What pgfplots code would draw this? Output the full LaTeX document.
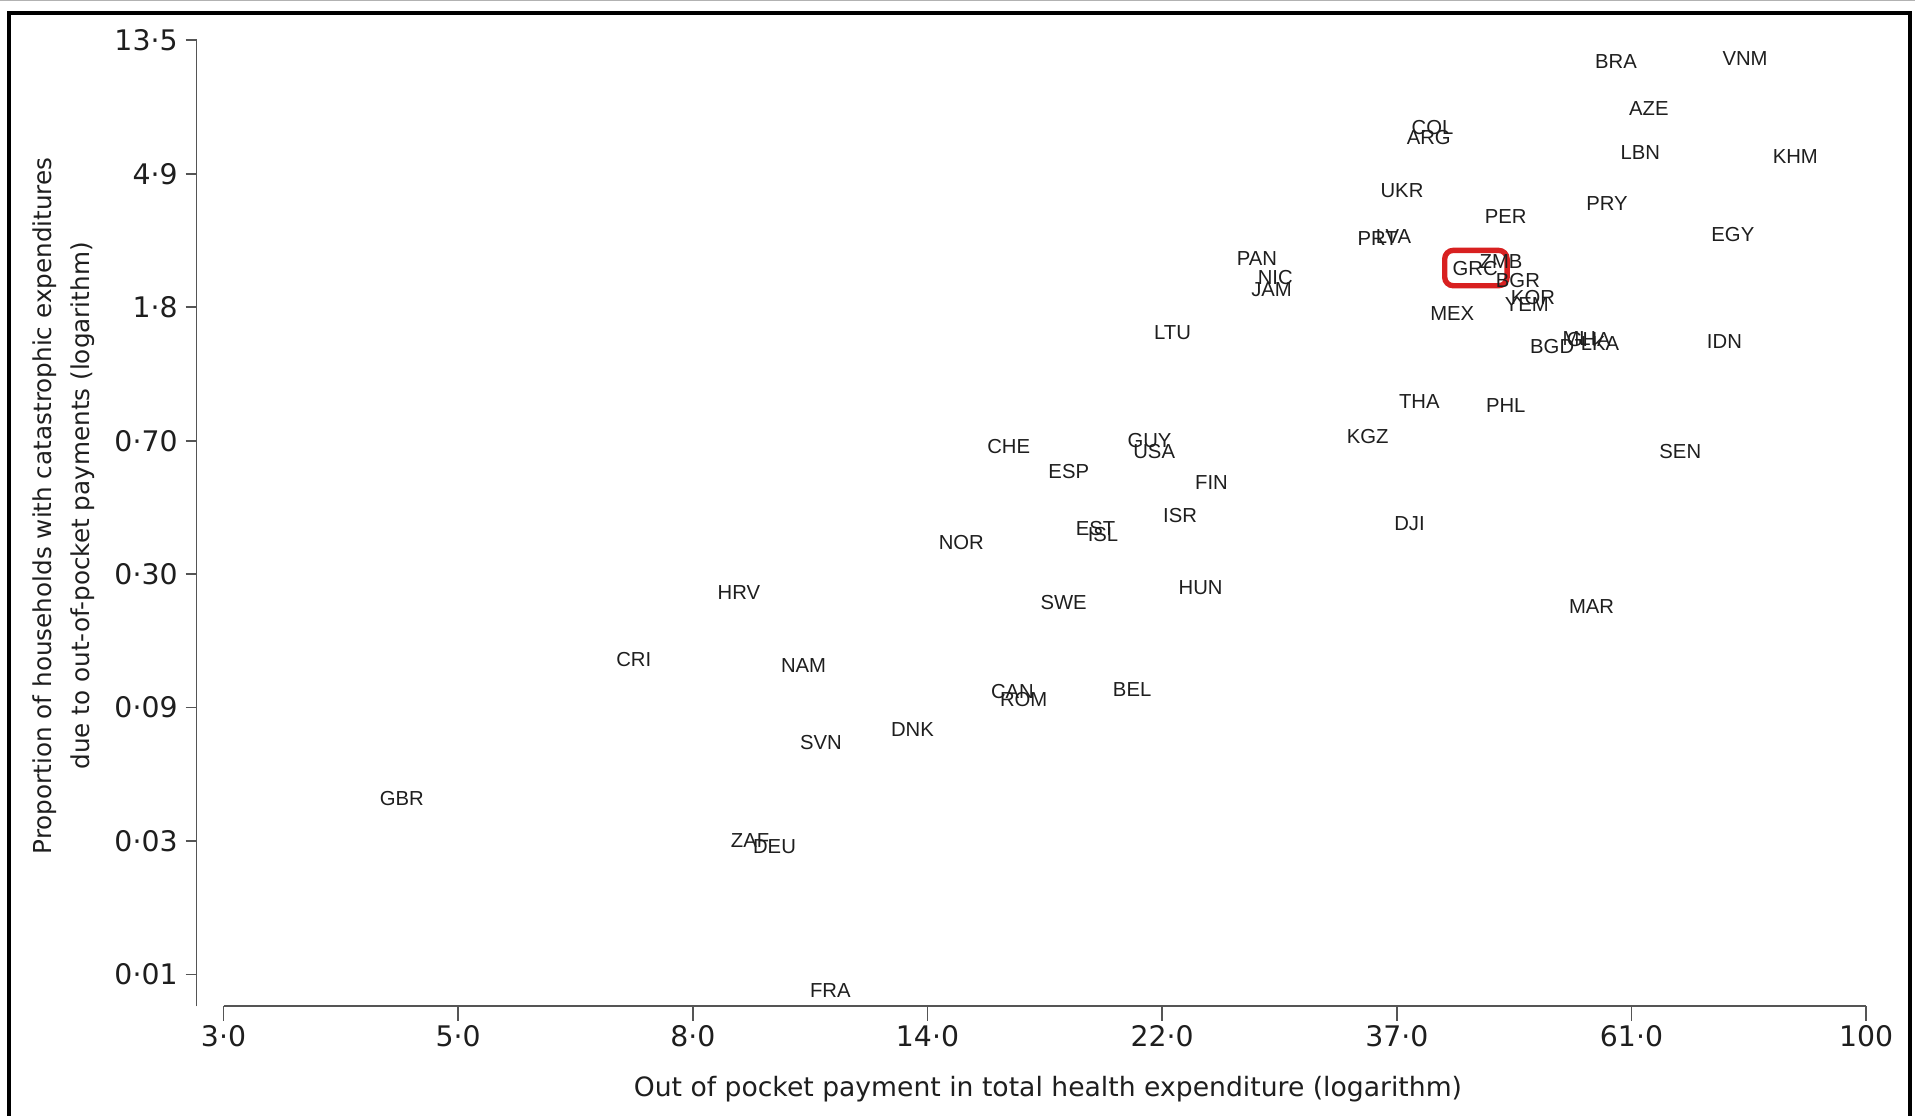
\documentclass[border=0pt]{standalone}
\usepackage{pgfplots}
\pgfplotsset{compat=1.18}
\usepackage{pgfplotstable}
\usepackage{fontspec}
\setmainfont{DejaVu Sans}
\newfontfamily\labfont{Liberation Sans}
\definecolor{axgray}{HTML}{555555}
\definecolor{txt}{HTML}{1E1E1E}
\definecolor{boxred}{HTML}{D82020}

\pgfplotstableread{
x y lab
4.067 2.444 BRA
4.342 2.462 VNM
4.137 2.087 AZE
3.676 1.950 COL
3.668 1.868 ARG
4.119 1.758 LBN
4.449 1.730 KHM
3.611 1.474 UKR
4.048 1.374 PRY
3.832 1.282 PER
3.559 1.117 PRT
3.593 1.127 LVA
4.316 1.145 EGY
3.302 0.962 PAN
3.341 0.825 NIC
3.333 0.733 JAM
3.767 0.889 GRC
3.822 0.944 ZMB
3.858 0.797 BGR
3.890 0.669 KOR
3.877 0.623 YEM
3.718 0.550 MEX
3.122 0.413 LTU
3.931 0.303 BGD
3.989 0.367 MLI
4.009 0.358 GHA
4.033 0.331 LKA
4.298 0.340 IDN
3.648 -0.109 THA
3.832 -0.136 PHL
3.538 -0.365 KGZ
4.204 -0.484 SEN
2.773 -0.447 CHE
3.073 -0.401 GUY
3.083 -0.484 USA
2.901 -0.630 ESP
3.205 -0.713 FIN
3.138 -0.960 ISR
3.627 -1.024 DJI
2.958 -1.060 EST
2.974 -1.106 ISL
2.672 -1.161 NOR
2.198 -1.536 HRV
3.182 -1.499 HUN
2.890 -1.609 SWE
4.015 -1.646 MAR
1.974 -2.039 CRI
2.336 -2.085 NAM
2.781 -2.277 CAN
2.805 -2.341 ROM
3.036 -2.268 BEL
2.568 -2.561 DNK
2.373 -2.661 SVN
1.480 -3.082 GBR
2.222 -3.394 ZAF
2.274 -3.439 DEU
2.393 -4.519 FRA
}\countries

\begin{document}
\begin{tikzpicture}[x=1pt,y=1pt]
\useasboundingbox (0,0) rectangle (784,456.5);
\draw[gray!60, line width=0.5pt] (0,456.2) -- (784,456.2);
\draw[black, line width=1.6pt] (3.5,-2) -- (3.5,451) -- (782,451) -- (782,-2);
\begin{axis}[
  at={(80.5pt,44.5pt)}, anchor=south west,
  scale only axis, width=683.5pt, height=395.5pt,
  xmin=1.0427, xmax=4.6, ymin=-4.638, ymax=2.6,
  clip=false,
  axis x line*=bottom, axis y line*=left,
  axis line style={draw=none},
  tick align=outside,
  xtick={1.1,1.6,2.1,2.6,3.1,3.6,4.1,4.6},
  xticklabels={3·0,5·0,8·0,14·0,22·0,37·0,61·0,100},
  ytick={-4.4,-3.4,-2.4,-1.4,-0.4,0.6,1.6,2.6},
  yticklabels={0·01,0·03,0·09,0·30,0·70,1·8,4·9,13·5},
  xtick style={axgray, line width=0.7pt, /pgfplots/major tick length=6pt},
  ytick style={axgray, line width=0.7pt, /pgfplots/major tick length=4.5pt},
  every tick label/.append style={font=\fontsize{11.6}{13}\selectfont, text=txt},
  xlabel={Out of pocket payment in total health expenditure (logarithm)},
  ylabel={Proportion of households with catastrophic expenditures\\due to out-of-pocket payments (logarithm)},
  xlabel style={at={(axis description cs:0.5099,-0.086)}, anchor=center, font=\fontsize{10.9}{12}\selectfont, text=txt},
  ylabel style={at={(axis description cs:-0.0794,0.518)}, anchor=center, rotate=0, align=center, font=\fontsize{10.1}{15.5}\selectfont, text=txt},
]
\draw[axgray, line width=0.7pt] (axis cs:1.1,-4.638) -- (axis cs:4.6,-4.638);
\draw[axgray, line width=0.7pt] (axis cs:1.0427,-4.638) -- (axis cs:1.0427,2.6);
\addplot[only marks, mark=none, nodes near coords={\pgfplotspointmeta},
  point meta=explicit symbolic,
  nodes near coords style={anchor=center, inner sep=0pt, font=\labfont\fontsize{8.3}{10}\selectfont, text=txt}]
  table[x=x, y=y, meta=lab] {\countries};
\draw[boxred, line width=2.2pt, rounded corners=3.5pt] (axis cs:3.702,1.026) rectangle (axis cs:3.835,0.761);
\end{axis}
\end{tikzpicture}
\end{document}
